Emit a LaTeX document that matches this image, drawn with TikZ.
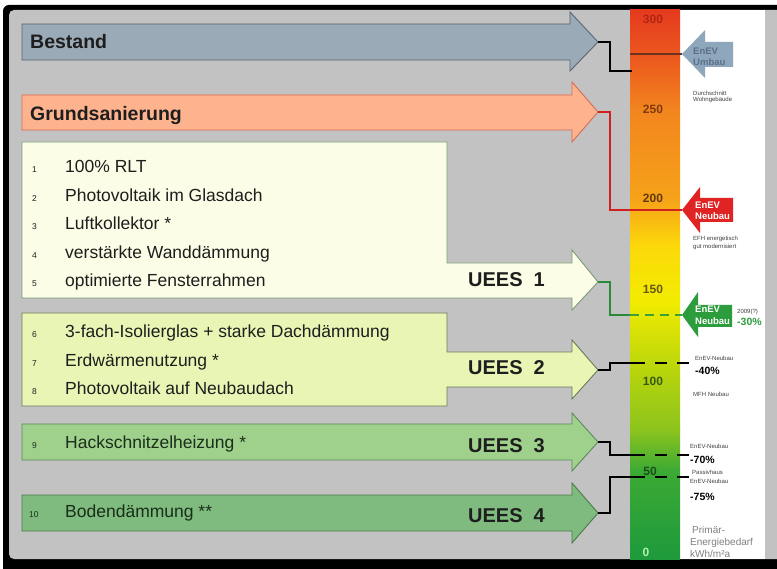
\documentclass[tikz,border=0pt]{standalone}
\usepackage{fontspec}
\setmainfont{Liberation Sans}
\definecolor{bggray}{HTML}{C2C2C2}
\definecolor{bestfill}{HTML}{9AAAB7}
\definecolor{bestdraw}{HTML}{5A6570}
\definecolor{grundfill}{HTML}{FDB38E}
\definecolor{grunddraw}{HTML}{D86A58}
\definecolor{boxAfill}{HTML}{FBFDE6}
\definecolor{boxAdraw}{HTML}{7A9A7A}
\definecolor{boxBfill}{HTML}{E8F5B4}
\definecolor{boxBdraw}{HTML}{6A7A5A}
\definecolor{boxCfill}{HTML}{9FD18D}
\definecolor{boxCdraw}{HTML}{5A8A5A}
\definecolor{boxDfill}{HTML}{7FBB7E}
\definecolor{boxDdraw}{HTML}{4A7A4A}
\definecolor{umbaufill}{HTML}{8FA7BC}
\definecolor{umbautext}{HTML}{5A7088}
\definecolor{neured}{HTML}{E02424}
\definecolor{neugreen}{HTML}{2C9C3C}
\definecolor{linegreen}{HTML}{2A8A3A}
\definecolor{linered}{HTML}{D02020}
\definecolor{darktext}{HTML}{1E1E1E}
\definecolor{greentext}{HTML}{1A2E1A}
\begin{document}
\begin{tikzpicture}[x=1pt,y=-1pt,
  title/.style={anchor=base west, inner sep=0pt, font=\fontsize{19.5}{20}\selectfont\bfseries, text=darktext},
  item/.style={anchor=base west, inner sep=0pt, font=\fontsize{17.5}{18}\selectfont, text=#1},
  item/.default=darktext,
  inum/.style={anchor=base west, inner sep=0pt, font=\fontsize{8.5}{9}\selectfont, text=#1},
  inum/.default=darktext,
  uees/.style={anchor=base west, inner sep=0pt, font=\fontsize{20}{20}\selectfont\bfseries, text=darktext},
  scalelbl/.style={inner sep=0pt, font=\fontsize{12}{12}\selectfont\bfseries},
  enev/.style={anchor=base west, inner sep=0pt, font=\fontsize{9.5}{10}\selectfont\bfseries},
  tinytxt/.style={anchor=base west, inner sep=0pt, font=\fontsize{6}{6}\selectfont, text=black!75},
  pct/.style={anchor=base west, inner sep=0pt, font=\fontsize{10.5}{11}\selectfont\bfseries},
  conn/.style={line width=2pt},
  dashconn/.style={line width=2pt, dash pattern=on 12pt off 10pt},
  big/.style={line width=0.9pt}
]
\useasboundingbox (0,0) rectangle (777,569);
% frame
\fill[white] (0,0) rectangle (777,569);
\fill[black, rounded corners=6pt] (3,5) rectangle (790,580);
\fill[bggray, rounded corners=5pt] (9,10) rectangle (790,559);
\fill[white] (680,10) rectangle (765,559);
% colour bar
\shade[top color={rgb,255:red,228;green,58;blue,30}, bottom color={rgb,255:red,236;green,90;blue,30}] (630,10) rectangle (680,60.5);
\shade[top color={rgb,255:red,236;green,90;blue,30}, bottom color={rgb,255:red,242;green,133;blue,30}] (630,60) rectangle (680,109.5);
\shade[top color={rgb,255:red,242;green,133;blue,30}, bottom color={rgb,255:red,246;green,162;blue,26}] (630,109) rectangle (680,198.5);
\shade[top color={rgb,255:red,246;green,162;blue,26}, bottom color={rgb,255:red,252;green,216;blue,10}] (630,198) rectangle (680,245.5);
\shade[top color={rgb,255:red,252;green,216;blue,10}, bottom color={rgb,255:red,242;green,236;blue,0}] (630,245) rectangle (680,300.5);
\shade[top color={rgb,255:red,242;green,236;blue,0}, bottom color={rgb,255:red,176;green,210;blue,14}] (630,300) rectangle (680,380.5);
\shade[top color={rgb,255:red,176;green,210;blue,14}, bottom color={rgb,255:red,140;green,196;blue,30}] (630,380) rectangle (680,430.5);
\shade[top color={rgb,255:red,140;green,196;blue,30}, bottom color={rgb,255:red,60;green,170;blue,52}] (630,430) rectangle (680,470.5);
\shade[top color={rgb,255:red,60;green,170;blue,52}, bottom color={rgb,255:red,30;green,154;blue,60}] (630,470) rectangle (680,559);
% scale labels
\node[scalelbl, text={rgb,255:red,176;green,36;blue,20}] (s300) at (653,19) {300};
\node[scalelbl, text={rgb,255:red,130;green,56;blue,14}] (s250) at (653,109) {250};
\node[scalelbl, text={rgb,255:red,100;green,56;blue,14}] (s200) at (653,198) {200};
\node[scalelbl, text={rgb,255:red,100;green,88;blue,14}] (s150) at (653,289) {150};
\node[scalelbl, text={rgb,255:red,56;green,90;blue,14}] (s100) at (653,381) {100};
\node[scalelbl, text={rgb,255:red,26;green,80;blue,26}] (s50) at (650,471) {50};
\node[scalelbl, text={rgb,255:red,176;green,240;blue,176}] (s0) at (646,552) {0};

% big arrows
\draw[big, fill=bestfill, draw=bestdraw] (22,24) -- (570,24) -- (570,12) -- (598,42) -- (570,71) -- (570,60) -- (22,60) -- cycle;
\draw[big, fill=grundfill, draw=grunddraw] (22,95) -- (572,95) -- (572,82) -- (598,112) -- (572,142) -- (572,130) -- (22,130) -- cycle;
\draw[big, fill=boxAfill, draw=boxAdraw] (22,142) -- (447,142) -- (447,263) -- (572,263) -- (572,250) -- (598,282) -- (572,310) -- (572,298) -- (22,298) -- cycle;
\draw[big, fill=boxBfill, draw=boxBdraw] (22,313) -- (447,313) -- (447,352) -- (572,352) -- (572,340) -- (598,370) -- (572,399) -- (572,387) -- (447,387) -- (447,406) -- (22,406) -- cycle;
\draw[big, fill=boxCfill, draw=boxCdraw] (22,424) -- (572,424) -- (572,413) -- (598,442) -- (572,471) -- (572,460) -- (22,460) -- cycle;
\draw[big, fill=boxDfill, draw=boxDdraw] (22,495) -- (572,495) -- (572,483) -- (598,513) -- (572,543) -- (572,531) -- (22,531) -- cycle;

% texts
\node[title] (tBest) at (30,49) {Bestand};
\node[title] (tGrund) at (30,121) {Grundsanierung};
\node[inum] (n1) at (32,173) {1};   \node[item] (i1) at (65,173) {100\% RLT};
\node[inum] (n2) at (32,201.5) {2}; \node[item] (i2) at (65,201.5) {Photovoltaik im Glasdach};
\node[inum] (n3) at (32,230) {3};   \node[item] (i3) at (65,230) {Luftkollektor *};
\node[inum] (n4) at (32,258.5) {4}; \node[item] (i4) at (65,258.5) {verstärkte Wanddämmung};
\node[inum] (n5) at (32,287) {5};   \node[item] (i5) at (65,287) {optimierte Fensterrahmen};
\node[inum] (n6) at (32,338) {6};   \node[item] (i6) at (65,338) {3-fach-Isolierglas + starke Dachdämmung};
\node[inum] (n7) at (32,366.5) {7}; \node[item] (i7) at (65,366.5) {Erdwärmenutzung *};
\node[inum] (n8) at (32,395) {8};   \node[item] (i8) at (65,395) {Photovoltaik auf Neubaudach};
\node[inum=greentext] (n9) at (32,448) {9};   \node[item=greentext] (i9) at (65,448) {Hackschnitzelheizung *};
\node[inum=greentext] (n10) at (29,517) {10}; \node[item=greentext] (i10) at (65,517) {Bodendämmung **};
\node[uees] (u1) at (468,287) {UEES\hspace{0.55em}1};
\node[uees] (u2) at (468,375) {UEES\hspace{0.55em}2};
\node[uees] (u3) at (468,452) {UEES\hspace{0.55em}3};
\node[uees] (u4) at (468,522) {UEES\hspace{0.55em}4};

% EnEV arrows
\fill[umbaufill] (682,54) -- (705,30) -- (705,42) -- (733,42) -- (733,67) -- (705,67) -- (705,78) -- cycle;
\fill[neured] (682,210) -- (700,187) -- (700,198) -- (733,198) -- (733,222) -- (700,222) -- (700,233) -- cycle;
\fill[neugreen] (682,315) -- (698,292) -- (698,305) -- (732,305) -- (732,327) -- (698,327) -- (698,337) -- cycle;
\coordinate (uTip) at (682,54);
\coordinate (rTip) at (682,210);
\coordinate (gTip) at (682,315);
\node[enev, text=umbautext] (eU1) at (693,55) {EnEV};
\node[enev, text=umbautext] (eU2) at (693,66) {Umbau};
\node[enev, text=white] (eR1) at (695,209) {EnEV};
\node[enev, text=white] (eR2) at (695,220) {Neubau};
\node[enev, text=white] (eG1) at (695,313) {EnEV};
\node[enev, text=white] (eG2) at (695,325) {Neubau};

% side labels
\node[tinytxt] (l1) at (693,96) {Durchschnitt};
\node[tinytxt] (l2) at (693,102) {Wohngebäude};
\node[tinytxt] (l3) at (693,241) {EFH energetisch};
\node[tinytxt] (l4) at (693,249) {gut modernisiert};
\node[tinytxt] (l5) at (737,314) {2009(?)};
\node[pct, text=neugreen] (p30) at (737,326) {-30\%};
\node[tinytxt] (l6) at (695,361) {EnEV-Neubau};
\node[pct] (p40) at (695,375) {-40\%};
\node[tinytxt] (l7) at (693,397) {MFH Neubau};
\node[tinytxt] (l8) at (690,448) {EnEV-Neubau};
\node[pct] (p70) at (690,463) {-70\%};
\node[tinytxt] (l9) at (692,475) {Passivhaus};
\node[tinytxt] (l10) at (690,483) {EnEV-Neubau};
\node[pct] (p75) at (690,500) {-75\%};
\node[anchor=base west, inner sep=0pt, font=\fontsize{10}{10}\selectfont, text=black!50] (pe1) at (692,533) {Primär-};
\node[anchor=base west, inner sep=0pt, font=\fontsize{10}{10}\selectfont, text=black!50] (pe2) at (690,545) {Energiebedarf};
\node[anchor=base west, inner sep=0pt, font=\fontsize{10}{10}\selectfont, text=black!50] (pe3) at (690,557) {kWh/m²a};

% connectors
\coordinate (tB) at (598,42);
\coordinate (eB) at (632,71);
\coordinate (tG) at (598,112);
\coordinate (t1) at (598,282);
\coordinate (b1) at (630,315);
\coordinate (t2) at (598,370);
\coordinate (b2) at (645,363);
\coordinate (d2a) at (655,363);
\coordinate (d2b) at (690,363);
\coordinate (t3) at (598,442);
\coordinate (b3) at (645,455);
\coordinate (d3a) at (655,455);
\coordinate (d3b) at (690,455);
\coordinate (t4) at (598,513);
\coordinate (b4) at (645,477);
\coordinate (d4a) at (655,477);
\coordinate (d4b) at (690,477);
\coordinate (uBar) at (630,54);

\draw[line width=1.5pt, color={rgb,255:red,110;green,50;blue,30}] (uBar) -- (uTip);
\draw[conn] (tB) -- ++(12,0) |- (eB);
\draw[conn, linered] (tG) -- ++(12,0) |- (rTip);
\draw[conn, linegreen] (t1) -- ++(12,0) |- (b1);
\draw[line width=2pt, dash pattern=on 9pt off 6pt, color={rgb,255:red,60;green,160;blue,60}] (b1) -- (gTip);
\draw[conn] (t2) -- ++(12,0) -- ++(0,-7) -- (b2);
\draw[dashconn] (d2a) -- (d2b);
\draw[conn] (t3) -- ++(12,0) |- (b3);
\draw[dashconn] (d3a) -- (d3b);
\draw[conn] (t4) -- ++(12,0) |- (b4);
\draw[dashconn] (d4a) -- (d4b);
\end{tikzpicture}
\end{document}
